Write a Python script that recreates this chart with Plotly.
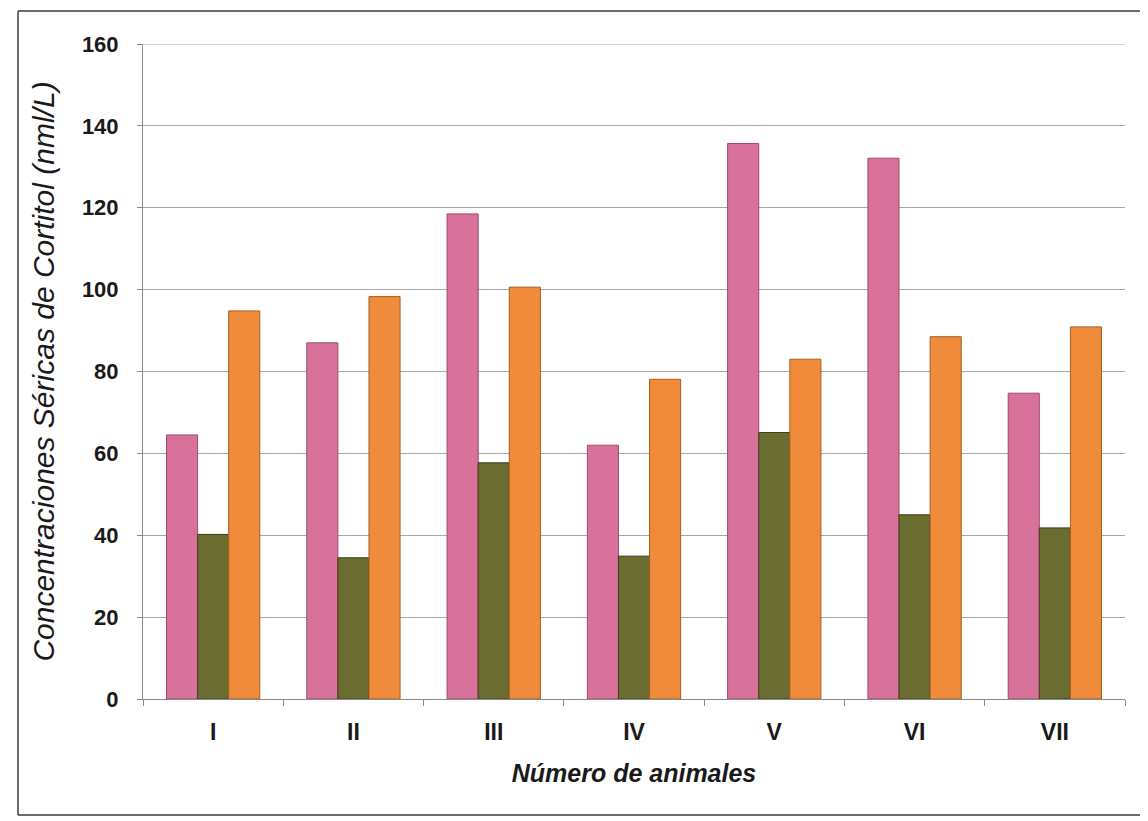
import plotly.graph_objects as go

categorias = ["I", "II", "III", "IV", "V", "VI", "VII"]
serie_rosa = [64.5, 87.0, 118.5, 62.0, 135.7, 132.1, 74.7]
serie_verde = [40.2, 34.5, 57.7, 34.9, 65.1, 45.0, 41.8]
serie_naranja = [94.8, 98.3, 100.6, 78.1, 83.0, 88.5, 90.9]
y_ticks = [0, 20, 40, 60, 80, 100, 120, 140, 160]

series = [
    ("Serie 1", serie_rosa, "#d8729b", "#9e4a6c"),
    ("Serie 2", serie_verde, "#6b6c30", "#3e3f18"),
    ("Serie 3", serie_naranja, "#ef8b3a", "#a85e22"),
]

fig = go.Figure()
for nombre, valores, color, borde in series:
    fig.add_trace(go.Bar(
        x=categorias, y=valores, name=nombre,
        marker=dict(color=color, line=dict(color=borde, width=1)),
    ))

font_family = "Liberation Sans, Arial, sans-serif"

fig.update_layout(
    width=1140, height=813,
    margin=dict(l=135, r=23, t=36, b=122),
    paper_bgcolor="white", plot_bgcolor="white",
    barmode="group", bargap=0.335, bargroupgap=0,
    showlegend=False,
    font=dict(family=font_family, color="#1a1a1a"),
    xaxis=dict(
        type="category",
        showgrid=False,
        showline=True, linecolor="#8a8a8a", linewidth=1,
        ticks="outside", tickson="boundaries", ticklen=6, tickcolor="#8a8a8a",
        ticklabelstandoff=12,
        tickfont=dict(size=23, family=font_family, color="#1a1a1a", weight="bold"),
        title=dict(text="<b><i>Número de animales</i></b>",
                   font=dict(size=25, family=font_family, color="#1a1a1a"),
                   standoff=20),
        automargin=False,
    ),
    yaxis=dict(
        range=[0, 160], tickvals=y_ticks,
        showgrid=True, gridcolor="#a8a8a8", gridwidth=1,
        showline=True, linecolor="#8a8a8a", linewidth=1,
        ticks="outside", ticklen=5, tickcolor="#8a8a8a",
        ticklabelstandoff=14,
        zeroline=False,
        tickfont=dict(size=22, family=font_family, color="#1a1a1a", weight="bold"),
        title=dict(text="<i>Concentraciones Séricas de Cortitol (nml/L)</i>",
                   font=dict(size=30, family=font_family, color="#1a1a1a"),
                   standoff=18),
        automargin=False,
    ),
)

# top gridline at the axis maximum
fig.add_shape(
    type="line", xref="paper", yref="y",
    x0=0, x1=1, y0=y_ticks[-1], y1=y_ticks[-1],
    line=dict(color="#a8a8a8", width=1), layer="below",
)

# outer frame of the chart: left, top and bottom sides (right side is off the page)
frame_left, frame_right, frame_bottom, frame_top = -0.1273, 1.08, -0.1771, 1.0504
for fx0, fy0, fx1, fy1 in [
    (frame_left, frame_bottom, frame_left, frame_top),
    (frame_left, frame_top, frame_right, frame_top),
    (frame_left, frame_bottom, frame_right, frame_bottom),
]:
    fig.add_shape(
        type="line", xref="paper", yref="paper",
        x0=fx0, y0=fy0, x1=fx1, y1=fy1,
        line=dict(color="#3a3a3a", width=1.5), layer="below",
    )

fig.write_html("out.html")
